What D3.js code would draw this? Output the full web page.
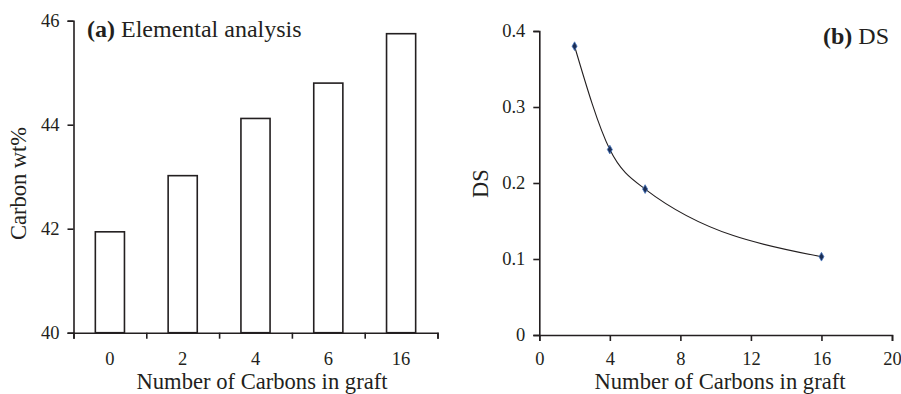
<!DOCTYPE html>
<html>
<head>
<meta charset="utf-8">
<script src="https://cdn.jsdelivr.net/npm/d3@7"></script>
<style>
  body { margin: 0; background: #fff; }
  svg text { font-family: "Liberation Serif", "Times New Roman", Times, serif; fill: #231f20; }
</style>
</head>
<body>
<svg id="chart" width="901" height="394"></svg>
<script>
// panel (a): elemental analysis
const graftCategories = ["0", "2", "4", "6", "16"];
const carbonWt = [41.94, 43.02, 44.12, 44.80, 45.75];
const carbonTicks = [40, 42, 44, 46];

// panel (b): degree of substitution
const dsCarbons = [2, 4, 6, 16];
const dsValues = [0.380, 0.244, 0.192, 0.103];
const dsXTicks = [0, 4, 8, 12, 16, 20];
const dsYTicks = [0, 0.1, 0.2, 0.3, 0.4];

const svg = d3.select('#chart');
const ink = '#231f20';
const serif = '"Liberation Serif", "Times New Roman", Times, serif';

// style an axis group the same way for both panels
function styleAxis(g) {
    g.attr('font-family', serif).attr('font-size', 18.5);
    g.selectAll('path, line').attr('stroke', ink).attr('stroke-width', 1.6);
    g.selectAll('text').attr('fill', ink);
}

// ---------- panel (a) ----------
const xa = d3.scaleBand()
    .domain(graftCategories)
    .range([73.5, 437.5])
    .paddingInner(0.6)
    .paddingOuter(0.3);

// boundaries between categories, for the tick marks
const xaEdges = d3.scaleLinear().domain([0, graftCategories.length]).range([73.5, 437.5]);

const ya = d3.scaleLinear().domain([40, 46]).range([332.7, 20.7]);

svg.append('g')
    .selectAll('rect')
    .data(carbonWt)
    .enter()
    .append('rect')
    .attr('x', (d, i) => xa(graftCategories[i]))
    .attr('y', d => ya(d))
    .attr('width', xa.bandwidth())
    .attr('height', d => ya(40) - ya(d))
    .attr('fill', '#fff')
    .attr('stroke', ink)
    .attr('stroke-width', 1.6);

const yaAxis = svg.append('g')
    .attr('transform', 'translate(73.5,0)')
    .call(d3.axisLeft(ya).tickValues(carbonTicks).tickSize(6).tickPadding(8).tickFormat(d3.format('d')));
styleAxis(yaAxis);

const xaTicks = svg.append('g')
    .attr('transform', 'translate(0,332.7)')
    .call(d3.axisBottom(xaEdges).ticks(graftCategories.length).tickSize(6).tickFormat(''));
styleAxis(xaTicks);

const xaLabels = svg.append('g')
    .attr('transform', 'translate(0,332.7)')
    .call(d3.axisBottom(xa).tickSize(0).tickPadding(19));
xaLabels.select('.domain').remove();
styleAxis(xaLabels);

svg.append('text')
    .attr('x', 87)
    .attr('y', 37)
    .attr('font-size', 24)
    .html('<tspan font-weight="bold">(a)</tspan> Elemental analysis');

svg.append('text')
    .attr('transform', 'translate(26,183.5) rotate(-90)')
    .attr('text-anchor', 'middle')
    .attr('font-size', 22.5)
    .text('Carbon wt%');

svg.append('text')
    .attr('x', 262)
    .attr('y', 389)
    .attr('text-anchor', 'middle')
    .attr('font-size', 22.6)
    .text('Number of Carbons in graft');

// ---------- panel (b) ----------
const xb = d3.scaleLinear().domain([0, 20]).range([539.3, 892]);
const yb = d3.scaleLinear().domain([0, 0.4]).range([335, 31]);

const ybAxis = svg.append('g')
    .attr('transform', 'translate(539.3,0)')
    .call(d3.axisLeft(yb).tickValues(dsYTicks).tickSize(6).tickPadding(8).tickFormat(d3.format('')));
styleAxis(ybAxis);

const xbAxis = svg.append('g')
    .attr('transform', 'translate(0,335)')
    .call(d3.axisBottom(xb).tickValues(dsXTicks).tickSize(6).tickPadding(11));
styleAxis(xbAxis);

const dsPoints = dsCarbons.map((c, i) => ({ x: c, y: dsValues[i] }));

svg.append('path')
    .datum(dsPoints)
    .attr('fill', 'none')
    .attr('stroke', ink)
    .attr('stroke-width', 1.1)
    .attr('d', d3.line()
        .x(d => xb(d.x))
        .y(d => yb(d.y))
        .curve(d3.curveMonotoneX));

svg.append('g')
    .selectAll('path')
    .data(dsPoints)
    .enter()
    .append('path')
    .attr('transform', d => `translate(${xb(d.x)},${yb(d.y)})`)
    .attr('d', d3.symbol().type(d3.symbolDiamond).size(22))
    .attr('fill', '#1c2e55')
    .attr('stroke', '#4a78c0')
    .attr('stroke-width', 0.8);

svg.append('text')
    .attr('x', 889)
    .attr('y', 44)
    .attr('text-anchor', 'end')
    .attr('font-size', 24)
    .html('<tspan font-weight="bold">(b)</tspan> DS');

svg.append('text')
    .attr('transform', 'translate(488,183.5) rotate(-90)')
    .attr('text-anchor', 'middle')
    .attr('font-size', 22.5)
    .text('DS');

svg.append('text')
    .attr('x', 720)
    .attr('y', 389)
    .attr('text-anchor', 'middle')
    .attr('font-size', 22.6)
    .text('Number of Carbons in graft');
</script>
</body>
</html>
